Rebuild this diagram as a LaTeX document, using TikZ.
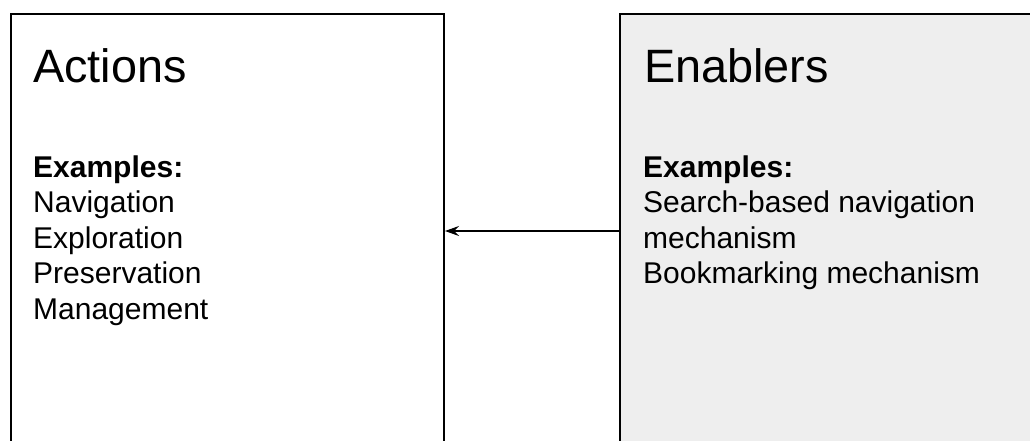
\documentclass[tikz,border=0pt]{standalone}
\usepackage{fontspec}
\setmainfont{Liberation Sans}
\usetikzlibrary{arrows.meta}
\definecolor{panelgray}{HTML}{EEEEEE}
\tikzset{
panel/.style={draw=black, line width=2pt, minimum width=433pt, minimum height=434pt, anchor=north west, inner sep=0pt},
heading/.style={anchor=base west, inner sep=0pt, font=\fontsize{46.8}{56}\selectfont},
body/.style={anchor=base west, inner sep=0pt, align=left, font=\fontsize{30}{35.5}\selectfont}
}
\begin{document}
\begin{tikzpicture}[x=1pt,y=-1pt]
\useasboundingbox (0,0) rectangle (1030,440);
\clip (0,0) rectangle (1030,440);
\node[panel] (actions) at (10,13) {};
\node[panel, fill=panelgray, minimum width=440pt] (enablers) at (619,13) {};
\draw[line width=1.3pt, -{Stealth[length=14pt, width=10pt, inset=5pt]}] (enablers.west) -- (actions.east);
\node[heading] (actionsTitle) at (33,82.5) {Actions};
\node[body] (actionsList) at (33,319) {\textbf{Examples:}\\Navigation\\Exploration\\Preservation\\Management};
\node[heading] (enablersTitle) at (644,82.5) {Enablers};
\node[body] (enablersList) at (643,283.5) {\textbf{Examples:}\\Search-based navigation\\mechanism\\Bookmarking mechanism};
\end{tikzpicture}
\end{document}
